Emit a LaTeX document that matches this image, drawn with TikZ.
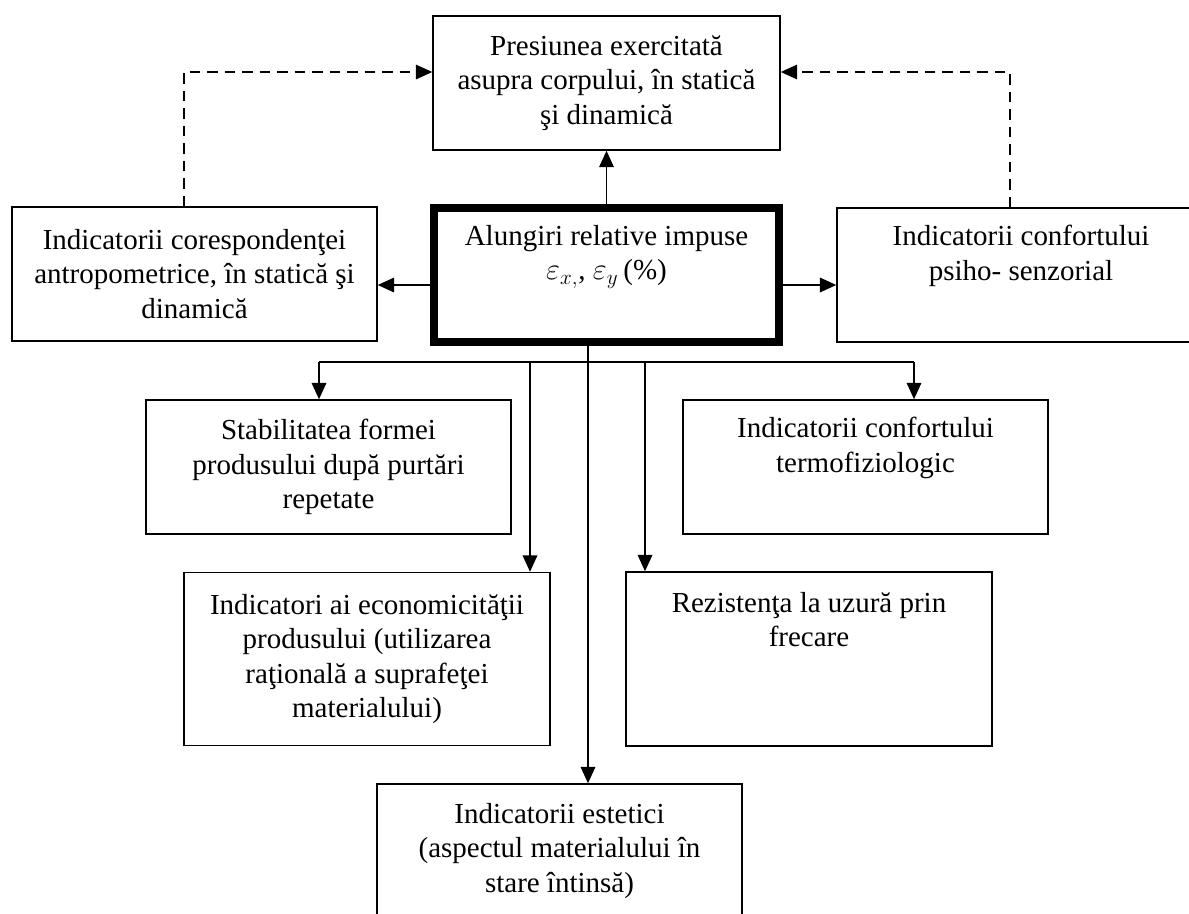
\documentclass[tikz,border=0pt]{standalone}
\usepackage{fontspec}
\setmainfont{Liberation Serif}
\usepackage{tikz}
\usetikzlibrary{arrows.meta, positioning}
\newcommand{\boxfont}{\fontsize{16.5}{19.5}\selectfont}

\begin{document}
\begin{tikzpicture}[
    x=0.02cm, y=-0.02cm,
    box/.style={
        rectangle,
        draw=black,
        line width=0.8pt,
        align=center,
        inner sep=0pt,
        minimum width=7.3cm,
        minimum height=2.68cm,
        font=\boxfont
    },
    mainbox/.style={
        box,
        line width=5pt,
        minimum width=6.9cm
    },
    link/.style={
        line width=1.1pt
    },
    arrow/.style={
        link,
        -{Triangle[length=0.33cm, width=0.29cm]}
    },
    dasharrow/.style={
        arrow,
        line width=1pt,
        dash pattern=on 0.21cm off 0.14cm
    }
]
\useasboundingbox (0,0) rectangle (1189,913);

% ==================== TOP ROW ====================
\node (pres) [box, minimum width=6.94cm] at (606.5,83) {Presiunea exercitată\\asupra corpului, în statică\\şi dinamică};

% ==================== MIDDLE ROW ====================
\node (main) [mainbox] at (606.5,275) {Alungiri relative impuse\\$\varepsilon_{x,}$, $\varepsilon_{y}$\,(\%)\\\strut};
\node (anthro) [box] at (194.5,274) {Indicatorii corespondenţei\\antropometrice, în statică şi\\dinamică};
\node (psiho) [box, minimum width=7.36cm] at (1021,275) {Indicatorii confortului\\psiho- senzorial\\\strut};

% ==================== LOWER ROWS ====================
\node (stabil) [box] at (328.5,467) {Stabilitatea formei\\produsului după purtări\\repetate};
\node (termo) [box] at (865.5,467) {Indicatorii confortului\\termofiziologic\\\strut};
\node (econ) [box, minimum width=7.32cm, minimum height=3.46cm] at (367,659) {Indicatori ai economicităţii\\produsului (utilizarea\\raţională a suprafeţei\\materialului)};
\node (rezist) [box, minimum width=7.32cm, minimum height=3.48cm] at (809,659) {Rezistenţa la uzură prin\\frecare\\\strut\\\strut};
\node (estet) [box] at (559.5,851) {Indicatorii estetici\\(aspectul materialului în\\stare întinsă)};

% ==================== BUS BELOW THE MAIN BOX ====================
\coordinate (bus) at (588,362);
\coordinate (tapA) at (319,362);
\coordinate (tapB) at (530,362);
\coordinate (tapC) at (645,362);
\coordinate (tapD) at (914,362);

% ==================== CONNECTIONS ====================
% Main box to its neighbours
\draw [arrow] (main) -- (pres);
\draw [arrow] ([yshift=-0.2cm]main.west) -- ([yshift=-0.2cm]main.west -| anthro.east);
\draw [arrow] ([yshift=-0.2cm]main.east) -- ([yshift=-0.2cm]main.east -| psiho.west);

% Dashed feedback to the top box
\draw [dasharrow] ([xshift=-0.21cm]anthro.north) |- ([yshift=0.22cm]pres.west);
\draw [dasharrow] ([xshift=-0.22cm]psiho.north) |- ([yshift=0.22cm]pres.east);

% Bus and its branches
\draw [link] (tapA) -- (tapD);
\draw [arrow] (main.south -| bus) -- (bus |- estet.north);
\draw [arrow] (tapA) -- (tapA |- stabil.north);
\draw [arrow] (tapB) -- (tapB |- econ.north);
\draw [arrow] (tapC) -- (tapC |- rezist.north);
\draw [arrow] (tapD) -- (tapD |- termo.north);

\end{tikzpicture}
\end{document}
